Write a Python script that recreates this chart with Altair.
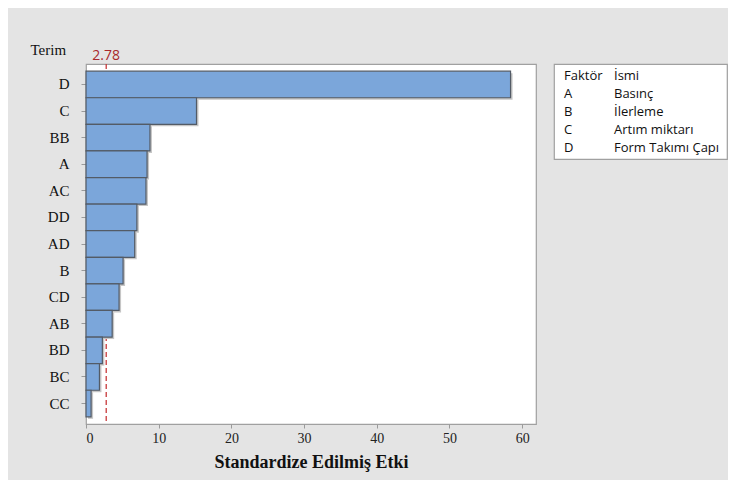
import altair as alt
import pandas as pd

# Pareto of standardized effects
terms = ["D", "C", "BB", "A", "AC", "DD", "AD", "B", "CD", "AB", "BD", "BC", "CC"]
effects = [58.4, 15.2, 8.8, 8.4, 8.25, 7.0, 6.7, 5.1, 4.55, 3.6, 2.25, 1.85, 0.7]
critical = 2.78

legend_codes = ["Faktör", "A", "B", "C", "D"]
legend_names = ["İsmi", "Basınç", "İlerleme", "Artım miktarı", "Form Takımı Çapı"]

df = pd.DataFrame({"Terim": terms, "Etki": effects})
crit_df = pd.DataFrame({"k": [critical], "lbl": [f"{critical:.2f}"]})
leg_df = pd.DataFrame({"row": list(range(len(legend_codes))), "code": legend_codes, "name": legend_names})

serif = "Liberation Serif"
sans = "Open Sans"

x_enc = alt.X(
    "Etki:Q",
    scale=alt.Scale(domain=[0, 61.9], nice=False),
    axis=alt.Axis(
        values=[0, 10, 20, 30, 40, 50, 60], title="Standardize Edilmiş Etki",
        grid=False, domain=False, tickColor="#9a9a9a", tickSize=4,
        labelFont=serif, labelFontSize=14, labelColor="#222", labelPadding=3,
        titleFont=serif, titleFontSize=18, titleFontWeight="bold", titleColor="#111", titlePadding=8,
    ),
)
y_enc = alt.Y(
    "Terim:N",
    sort=terms,
    scale=alt.Scale(domain=terms, paddingInner=0, paddingOuter=0.27),
    axis=alt.Axis(
        title="Terim", titleAngle=0, titleX=-56, titleY=-10, titleAlign="left",
        titleBaseline="alphabetic", titleFont=serif, titleFontSize=15, titleFontWeight="normal",
        titleColor="#111", domain=False, tickColor="#9a9a9a", tickSize=5, labelPadding=12,
        labelFont=serif, labelFontSize=15, labelColor="#111",
    ),
)

rule = alt.Chart(crit_df).mark_rule(color="#c8393b", strokeDash=[5, 3], strokeWidth=1.3).encode(x="k:Q")
shadow = alt.Chart(df).mark_bar(color="#c6c6c6", xOffset=2, yOffset=2).encode(x=x_enc, y=y_enc)
bars = alt.Chart(df).mark_bar(fill="#7ba6da", stroke="#535b66", strokeWidth=1.2).encode(x=x_enc, y=y_enc)
crit_text = alt.Chart(crit_df).mark_text(
    font=sans, fontSize=14, color="#a8282c", baseline="alphabetic", align="center"
).encode(x="k:Q", y=alt.value(-4), text="lbl:N")

main = alt.layer(rule, shadow, bars, crit_text).properties(width=450, height=360)

leg_y = alt.Y("row:O", scale=alt.Scale(type="point", range=[12, 84], padding=0), axis=None)
leg_codes = alt.Chart(leg_df).mark_text(
    font=sans, fontSize=13, color="#111", align="left", baseline="middle"
).encode(x=alt.value(10), y=leg_y, text="code:N")
leg_names = alt.Chart(leg_df).mark_text(
    font=sans, fontSize=13, color="#111", align="left", baseline="middle"
).encode(x=alt.value(60), y=leg_y, text="name:N")
legend = alt.layer(leg_codes, leg_names).properties(width=173, height=95)

chart = (
    alt.hconcat(main, legend, spacing=16)
    .properties(background="#e4e4e4", padding={"left": 21, "top": 33, "right": 0, "bottom": 8})
    .configure_view(stroke="#a0a0a0", fill="white", strokeWidth=1.2)
)

chart.save("out.html", embed_options={"renderer": "svg", "actions": False})
